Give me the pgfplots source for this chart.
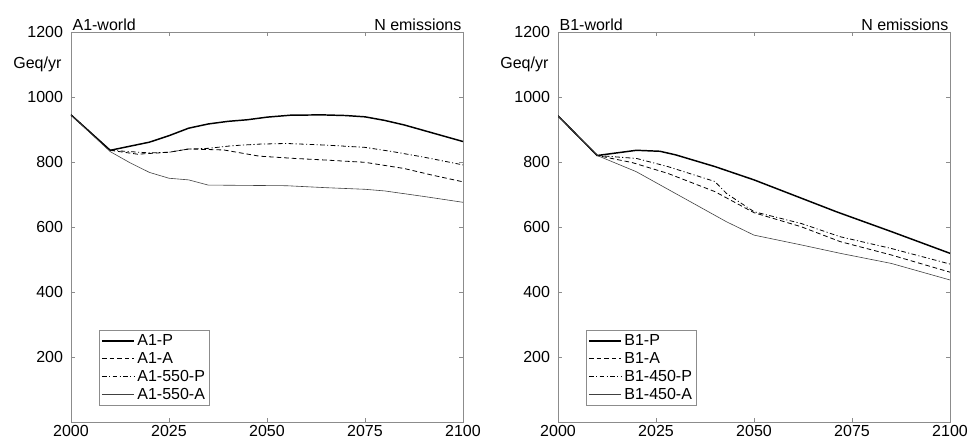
\documentclass[border=0pt]{standalone}
\usepackage{pgfplots}
\pgfplotsset{compat=1.18}
\usepackage{fontspec}
\setmainfont{Liberation Sans}

\tikzset{lab/.style={inner sep=1pt, font=\fontsize{12}{14}\selectfont}}
\pgfplotsset{
  panel/.style={
    scale only axis,
    width=294pt, height=292.5pt,
    xmin=2000, xmax=2100, ymin=0, ymax=1200,
    xtick={2000,2025,2050,2075,2100},
    ytick={200,400,600,800,1000,1200},
    tick align=inside,
    major tick length=3pt,
    axis line style={black!45},
    tick style={black!45},
    tick label style={font=\fontsize{12}{14}\selectfont},
    xticklabel style={yshift=1pt},
    yticklabel style={xshift=-2.5pt},
    /pgf/number format/1000 sep={},
    /pgf/number format/assume math mode=true,
    legend cell align=left,
    legend style={at={(0.0714,0.041)}, anchor=south west, draw=black!45,
      font=\fontsize{12}{14.3}\selectfont, inner sep=1.5pt, row sep=-0.5pt},
    legend image code/.code={\draw[#1] (0pt,0pt) -- (24pt,0pt);},
    clip mode=individual,
  },
  sP/.style={black, line width=1.1pt},
  sA/.style={black, line width=0.6pt, dash pattern=on 3.5pt off 2.2pt},
  sXP/.style={black, line width=0.6pt, dash pattern=on 3.5pt off 1.8pt on 0.8pt off 1.8pt},
  sXA/.style={black!75, line width=0.45pt},
}

\begin{document}
\begin{tikzpicture}
\begin{axis}[panel, at={(0,0)}, anchor=south west, name=left]
\addplot[sP] coordinates {(2000,945)(2010,836)(2020,861)(2025,881)(2030,904)(2035,917)(2040,925)(2045,930)(2050,938)(2056,944)(2064,945)(2070,943)(2075,939)(2080,928)(2085,914)(2090,897)(2095,880)(2100,863)};
\addlegendentry{A1-P}
\addplot[sA] coordinates {(2000,945)(2010,836)(2017,824)(2025,830)(2030,840)(2039,837)(2048,818)(2057,811)(2065,806)(2075,799)(2085,780)(2092,760)(2100,739)};
\addlegendentry{A1-A}
\addplot[sXP] coordinates {(2000,945)(2010,836)(2020,828)(2025,830)(2030,840)(2035,842)(2041,850)(2048,855)(2055,857)(2065,852)(2075,845)(2082,832)(2090,815)(2100,791)};
\addlegendentry{A1-550-P}
\addplot[sXA] coordinates {(2000,945)(2010,832)(2015,798)(2020,768)(2025,750)(2030,745)(2035,729)(2045,728)(2055,727)(2065,721)(2075,716)(2080,711)(2090,694)(2100,676)};
\addlegendentry{A1-550-A}
\node[lab, anchor=south west] at (rel axis cs:0,1) {A1-world};
\node[lab, anchor=south east] at (rel axis cs:1,1) {N emissions};
\node[lab, anchor=east, inner sep=0pt] at ([xshift=-7pt]rel axis cs:0,0.9167) {Geq/yr};
\end{axis}

\begin{axis}[panel, at={(365.25pt,0)}, anchor=south west, name=right]
\addplot[sP] coordinates {(2000,942)(2010,820)(2020,836)(2026,833)(2030,822)(2040,786)(2050,745)(2059,703)(2071,647)(2085,586)(2100,519)};
\addlegendentry{B1-P}
\addplot[sA] coordinates {(2000,942)(2010,820)(2019,798)(2028,765)(2040,709)(2050,644)(2062,601)(2072,555)(2085,514)(2100,461)};
\addlegendentry{B1-A}
\addplot[sXP] coordinates {(2000,942)(2010,820)(2020,811)(2028,786)(2040,740)(2043,703)(2050,647)(2062,611)(2072,570)(2085,534)(2100,486)};
\addlegendentry{B1-450-P}
\addplot[sXA] coordinates {(2000,942)(2010,820)(2020,770)(2030,703)(2043,616)(2050,575)(2062,545)(2072,519)(2085,488)(2100,437)};
\addlegendentry{B1-450-A}
\node[lab, anchor=south west] at (rel axis cs:0,1) {B1-world};
\node[lab, anchor=south east] at (rel axis cs:1,1) {N emissions};
\node[lab, anchor=east, inner sep=0pt] at ([xshift=-7pt]rel axis cs:0,0.9167) {Geq/yr};
\end{axis}
\pgfresetboundingbox
\useasboundingbox (-53.25pt,-15.75pt) rectangle (674.25pt,316.5pt);
\end{tikzpicture}
\end{document}
